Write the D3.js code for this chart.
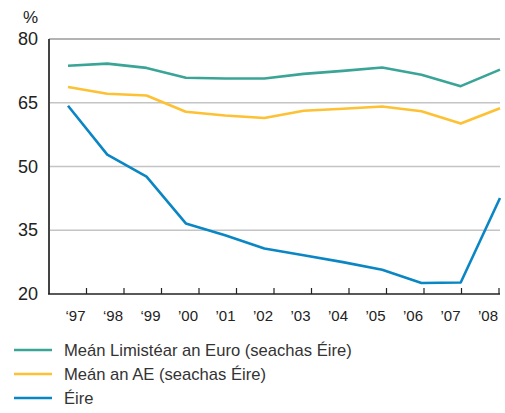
<!DOCTYPE html>
<html>
<head>
<meta charset="utf-8">
<script src="https://cdn.jsdelivr.net/npm/d3@7"></script>
<style>
  body { margin: 0; background: #fff; }
  svg { display: block; }
</style>
</head>
<body>
<div id="chart"></div>
<script>
var years = ["1997","1998","1999","2000","2001","2002","2003","2004","2005","2006","2007","2008"];
var tickLabels = ["\u201897","\u201898","\u201899","\u201900","\u201901","\u201902","\u201903","\u201904","\u201905","\u201906","\u201907","\u201908"];
var euroArea = [73.7, 74.2, 73.2, 70.9, 70.7, 70.7, 71.8, 72.5, 73.3, 71.6, 68.9, 72.8];
var euAvg = [68.7, 67.1, 66.7, 62.9, 62.0, 61.4, 63.1, 63.6, 64.1, 63.0, 60.1, 63.7];
var ireland = [64.3, 52.8, 47.6, 36.6, 33.8, 30.7, 29.1, 27.5, 25.7, 22.6, 22.7, 42.6];
var yTicks = [20, 35, 50, 65, 80];
var seriesNames = ["Meán Limistéar an Euro (seachas Éire)", "Meán an AE (seachas Éire)", "Éire"];
var seriesColors = ["#3aa596", "#fdc133", "#0a86c4"];

var margin = {top: 39, right: 5, bottom: 119, left: 49};
var width = 505 - margin.left - margin.right;
var height = 413 - margin.top - margin.bottom;

var svg = d3.select("#chart")
    .append("svg")
        .attr("width", 505)
        .attr("height", 413);

var g = svg.append("g")
    .attr("transform", "translate(" + margin.left + "," + margin.top + ")");

// bands for the ticks, points for the lines
var xBand = d3.scaleBand().domain(years).range([0, width - 1]);
var xPoint = d3.scalePoint().domain(years).range([19, width]);

var y = d3.scaleLinear().domain([20, 80]).range([height, 0]);

// gridlines
g.selectAll(".grid")
    .data(yTicks.filter(function(d){ return d > 20; }))
    .enter()
    .append("line")
    .attr("x1", 0)
    .attr("x2", width)
    .attr("y1", function(d){ return y(d); })
    .attr("y2", function(d){ return y(d); })
    .attr("stroke", function(d){ return d == 80 ? "#9a9a9a" : "#c4c4c4"; })
    .attr("stroke-width", 1.5);

// y labels
g.selectAll(".ylab")
    .data(yTicks)
    .enter()
    .append("text")
    .attr("x", -11)
    .attr("y", function(d){ return y(d) + 6; })
    .attr("text-anchor", "end")
    .attr("font-family", "Liberation Sans, Arial, sans-serif")
    .attr("font-size", 18)
    .attr("fill", "#222")
    .text(function(d){ return d; });

svg.append("text")
    .attr("x", 38)
    .attr("y", 23)
    .attr("text-anchor", "end")
    .attr("font-family", "Liberation Sans, Arial, sans-serif")
    .attr("font-size", 17)
    .attr("fill", "#222")
    .text("%");

// lines
var line = d3.line()
    .x(function(d, i){ return xPoint(years[i]); })
    .y(function(d){ return y(d); });

var allSeries = [euroArea, euAvg, ireland];
g.selectAll(".serie")
    .data(allSeries)
    .enter()
    .append("path")
    .attr("d", line)
    .attr("fill", "none")
    .attr("stroke", function(d, i){ return seriesColors[i]; })
    .attr("stroke-width", 2.6)
    .attr("stroke-linejoin", "round");

// axes
g.append("line")
    .attr("x1", 0).attr("x2", 0)
    .attr("y1", 0).attr("y2", height)
    .attr("stroke", "#444")
    .attr("stroke-width", 2);

g.append("line")
    .attr("x1", -1).attr("x2", width)
    .attr("y1", height).attr("y2", height)
    .attr("stroke", "#222")
    .attr("stroke-width", 1.5);

g.selectAll(".tick")
    .data(years)
    .enter()
    .append("line")
    .attr("x1", function(d){ return xBand(d) + xBand.bandwidth(); })
    .attr("x2", function(d){ return xBand(d) + xBand.bandwidth(); })
    .attr("y1", height)
    .attr("y2", height - 6)
    .attr("stroke", "#222")
    .attr("stroke-width", 1.2);

g.selectAll(".xlab")
    .data(years)
    .enter()
    .append("text")
    .attr("x", function(d){ return xBand(d) + xBand.bandwidth() - 1; })
    .attr("y", height + 27)
    .attr("text-anchor", "end")
    .attr("font-family", "Liberation Sans Narrow, Arial Narrow, sans-serif")
    .attr("font-size", 15)
    .attr("fill", "#222")
    .text(function(d, i){ return tickLabels[i]; });

// legend
var legend = svg.selectAll(".legend")
    .data(seriesNames)
    .enter()
    .append("g")
    .attr("transform", function(d, i){ return "translate(14," + (350 + i * 24) + ")"; });

legend.append("line")
    .attr("x1", 0).attr("x2", 38)
    .attr("stroke", function(d, i){ return seriesColors[i]; })
    .attr("stroke-width", 2.6);

legend.append("text")
    .attr("x", 50)
    .attr("y", 6)
    .attr("font-family", "Liberation Sans, Arial, sans-serif")
    .attr("font-size", 16.6)
    .attr("fill", "#333")
    .text(function(d){ return d; });
</script>
</body>
</html>
